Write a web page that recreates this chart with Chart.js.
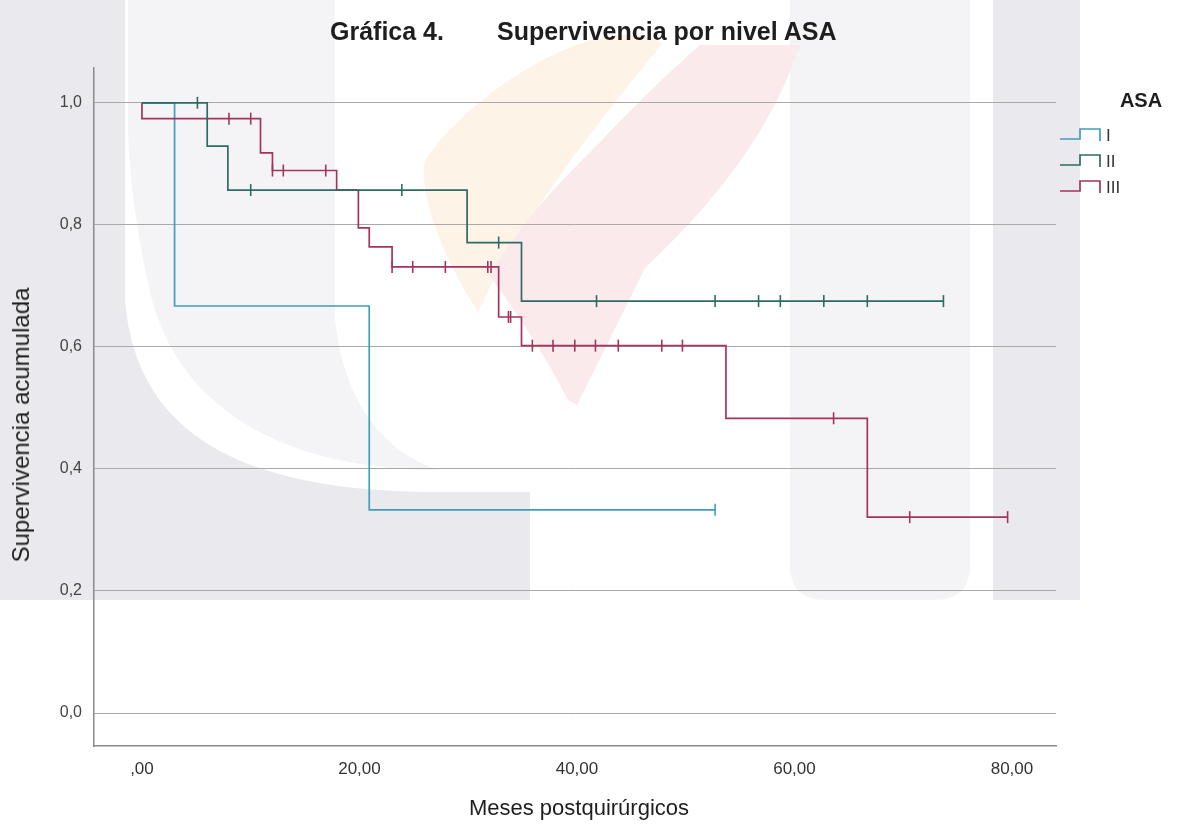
<!DOCTYPE html>
<html>
<head>
<meta charset="utf-8">
<script src="https://cdn.jsdelivr.net/npm/chart.js@4.4.1/dist/chart.umd.min.js"></script>
<style>
  html, body { margin: 0; padding: 0; background: #ffffff; }
  #wrap { position: relative; width: 1182px; height: 830px; overflow: hidden; font-family: "Liberation Sans", Arial, sans-serif; color: #222; }
  #bg, #c { position: absolute; left: 0; top: 0; }
  .txt { position: absolute; white-space: nowrap; line-height: 1; }
  .title { font-weight: bold; font-size: 25px; top: 31px; transform: translateY(-50%); color: #1e1e1e; }
  #ytitle { left: 21px; top: 425px; font-size: 24px; transform: translate(-50%, -50%) rotate(-90deg); color: #1e1e1e; }
  #xtitle { left: 579px; top: 808px; font-size: 22px; transform: translate(-50%, -50%); color: #1e1e1e; }
  #legTitle { left: 1141px; top: 100px; font-size: 20px; font-weight: bold; transform: translate(-50%, -50%); color: #1e1e1e; }
  .legItem { font-size: 17px; color: #333; transform: translateY(-50%); }
</style>
</head>
<body>
<div id="wrap">
  <!-- faint watermark artwork behind the plot -->
  <svg id="bg" width="1182" height="830" xmlns="http://www.w3.org/2000/svg">
    <path d="M0,0 H125 V300 C135,420 220,488 420,492 H530 V600 H0 Z" fill="#eaeaee"/>
    <path d="M128,0 H335 V320 C345,410 390,455 440,470 C300,470 185,420 152,300 C140,250 128,180 128,120 Z" fill="#f4f4f6"/>
    <path d="M790,0 H970 V565 Q970,600 935,600 H825 Q790,600 790,565 Z" fill="#f4f4f6"/>
    <path d="M993,0 H1080 V600 H993 Z" fill="#eaeaee"/>
    <path d="M585,42 C615,32 650,32 662,44 C600,120 520,220 478,312 C445,262 418,195 425,160 C460,110 525,62 585,42 Z" fill="#fdf3e7"/>
    <path d="M700,45 H800 C765,150 690,225 645,268 L577,405 L568,400 C535,335 500,292 490,275 C520,222 562,180 602,140 C640,100 680,62 700,45 Z" fill="#faeaec"/>
  </svg>
  <canvas id="c" width="1182" height="830"></canvas>

  <div class="txt title" style="left:330px;">Gráfica 4.</div>
  <div class="txt title" style="left:497px;">Supervivencia por nivel ASA</div>
  <div class="txt" id="ytitle">Supervivencia acumulada</div>
  <div class="txt" id="xtitle">Meses postquirúrgicos</div>
  <div class="txt" id="legTitle">ASA</div>
  <div id="legend"></div>
</div>

<script>
// Axis ticks
const xTickValues = [0, 20, 40, 60, 80];
const xTickLabels = [",00", "20,00", "40,00", "60,00", "80,00"];
const yTickValues = [0, 0.2, 0.4, 0.6, 0.8, 1.0];
const yTickLabels = ["0,0", "0,2", "0,4", "0,6", "0,8", "1,0"];

// ASA groups
const groupNames = ["I", "II", "III"];

// ASA I: event times (months), cumulative survival after each event, censored times
const eventTimesI = [3.0, 20.9];
const survivalI = [0.667, 0.333];
const censorTimesI = [52.7];

// ASA II
const eventTimesII = [6.0, 7.9, 29.9, 34.9];
const survivalII = [0.929, 0.857, 0.771, 0.675];
const censorTimesII = [5.1, 10.0, 23.9, 32.8, 41.8, 52.7, 56.7, 58.7, 62.7, 66.7, 73.7];

// ASA III
const eventTimesIII = [0, 10.9, 12.0, 17.9, 19.9, 20.9, 23.0, 32.8, 34.9, 53.7, 66.7];
const survivalIII = [0.974, 0.918, 0.889, 0.857, 0.795, 0.764, 0.731, 0.649, 0.602, 0.483, 0.321];
const censorTimesIII = [8.0, 10.0, 12.0, 13.0, 16.9, 23.0, 24.9, 27.9, 31.8, 32.1, 33.7, 33.9, 35.9, 37.8, 39.8, 41.7, 43.8, 47.8, 49.7, 63.6, 70.6, 79.6];

const groupColors = ["#419dbf", "#2e6b63", "#a2355f"];

// Kaplan-Meier step curve: starts at (0, 1), one vertex per event, runs to the last follow-up
function curvePoints(events, surv, censors) {
  const pts = [{ x: 0, y: 1 }];
  events.forEach((t, i) => pts.push({ x: t, y: surv[i] }));
  const last = pts[pts.length - 1];
  const end = Math.max(last.x, ...censors);
  if (end > last.x) pts.push({ x: end, y: last.y });
  return pts;
}
function levelAt(events, surv, t) {
  let s = 1;
  events.forEach((e, i) => { if (e <= t) s = surv[i]; });
  return s;
}
function censorPoints(events, surv, censors) {
  return censors.map(c => ({ x: c, y: levelAt(events, surv, c) }));
}

const groups = [
  { ev: eventTimesI, sv: survivalI, cz: censorTimesI, order: 2 },
  { ev: eventTimesII, sv: survivalII, cz: censorTimesII, order: 0 },
  { ev: eventTimesIII, sv: survivalIII, cz: censorTimesIII, order: 1 }
];

const datasets = [];
groups.forEach((g, i) => {
  datasets.push({
    label: groupNames[i],
    data: curvePoints(g.ev, g.sv, g.cz),
    showLine: true,
    // horizontal at the previous level, then drop at the event time
    stepped: 'before',
    borderColor: groupColors[i],
    borderWidth: 1.7,
    pointRadius: 0,
    fill: false,
    order: g.order + 3
  });
  datasets.push({
    label: groupNames[i] + " censurado",
    data: censorPoints(g.ev, g.sv, g.cz),
    showLine: false,
    pointStyle: 'line',
    rotation: 90,
    pointRadius: 6,
    pointBorderWidth: 1.6,
    borderColor: groupColors[i],
    pointBorderColor: groupColors[i],
    order: g.order
  });
});

new Chart(document.getElementById('c'), {
  type: 'scatter',
  data: { datasets },
  options: {
    responsive: false,
    animation: false,
    devicePixelRatio: 1,
    layout: { padding: { top: 68, right: 126, bottom: 0, left: 0 } },
    plugins: { legend: { display: false }, tooltip: { enabled: false }, title: { display: false } },
    scales: {
      x: {
        type: 'linear',
        min: -4.41,
        max: 84.05,
        afterFit: s => { s.height = 84; },
        afterBuildTicks: s => { s.ticks = xTickValues.map(v => ({ value: v })); },
        ticks: {
          padding: 13,
          color: '#333',
          font: { family: '"Liberation Sans Narrow", "Liberation Sans", Arial', size: 17 },
          callback: v => xTickLabels[xTickValues.indexOf(v)] ?? ''
        },
        grid: { display: false, drawTicks: false },
        border: { display: true, color: '#8a8a8a', width: 1.5 }
      },
      y: {
        type: 'linear',
        min: -0.054,
        max: 1.057,
        afterFit: s => { s.width = 94; },
        afterBuildTicks: s => { s.ticks = yTickValues.map(v => ({ value: v })); },
        ticks: {
          padding: 12,
          color: '#444',
          font: { family: '"Liberation Sans", Arial', size: 16 },
          callback: v => {
            const k = yTickValues.findIndex(t => Math.abs(t - v) < 1e-9);
            return k >= 0 ? yTickLabels[k] : '';
          }
        },
        grid: { color: '#a9a9a9', lineWidth: 1, drawTicks: false },
        border: { display: true, color: '#8a8a8a', width: 1.5 }
      }
    }
  }
});

// Legend: step glyph + group label
const legend = document.getElementById('legend');
const legendY = [135, 161, 187];
groupNames.forEach((name, i) => {
  const y = legendY[i];
  const svgNS = 'http://www.w3.org/2000/svg';
  const svg = document.createElementNS(svgNS, 'svg');
  svg.setAttribute('width', '50');
  svg.setAttribute('height', '24');
  svg.style.position = 'absolute';
  svg.style.left = '1056px';
  svg.style.top = (y - 12) + 'px';
  const pl = document.createElementNS(svgNS, 'polyline');
  pl.setAttribute('points', '4,16 24,16 24,6 44,6 44,18');
  pl.setAttribute('fill', 'none');
  pl.setAttribute('stroke', groupColors[i]);
  pl.setAttribute('stroke-width', '1.7');
  svg.appendChild(pl);
  legend.appendChild(svg);
  const t = document.createElement('div');
  t.className = 'txt legItem';
  t.style.left = '1106px';
  t.style.top = y + 'px';
  t.textContent = name;
  legend.appendChild(t);
});
</script>
</body>
</html>
